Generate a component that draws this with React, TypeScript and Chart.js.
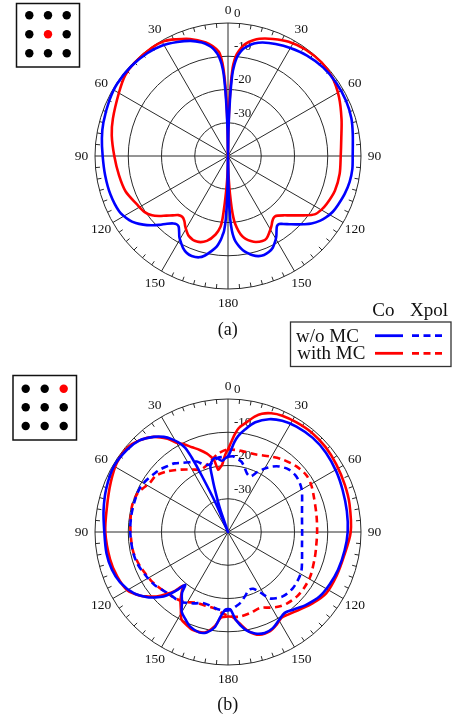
import React, { useEffect, useRef } from "react";
import { Chart, registerables } from "chart.js";

Chart.register(...registerables);

// ---------- data ----------
const ANGLE_COUNT = 360; // one category per degree, clockwise from top
const ANGLE_STEP = 30;
const ANGLE_LABELS = ["0", "30", "60", "90", "120", "150", "180", "150", "120", "90", "60", "30"];
const RADIAL_TICKS = [0, -10, -20, -30];
const R_MIN = -40;
const R_MAX = 0;

// [angle (deg, clockwise from top), gain (dB)]
const A_CO_WO_MC = [
  [0, -40], [1, -32], [2, -23], [3, -15.5], [4, -12.5], [5, -10.5], [6, -9.2], [8, -7.5], [10, -6.5], [13, -5.3],
  [17, -4.3], [23, -3.4], [30, -2.5], [38, -1.6], [47, -0.9], [56, -0.7], [65, -0.8], [73, -1.2], [80, -1.9], [90, -2.5],
  [96, -2.4], [102, -2.6], [108, -3.1], [114, -3.8], [118, -4.3], [122, -5.2], [125, -6.1], [129, -7.7], [132, -9.3],
  [135, -10.9], [138, -12.4], [141, -13.7], [143, -14.4], [145, -14.3], [147, -13.2], [149, -11.8], [151, -10.7],
  [154, -9.3], [157, -8.6], [160, -8.3], [163, -8.5], [166, -9.2], [169, -10.4], [171, -11.3], [173, -12.6], [175, -14.2],
  [176, -15.5], [177, -17.5], [178, -21], [179, -29], [180, -40], [181, -29], [182, -21], [183, -17.5], [184, -16],
  [185, -14.6], [187, -12.6], [190, -10.9], [193, -9.3], [196, -8.3], [200, -8.0], [203, -8.3], [206, -9.2], [209, -10.6],
  [211, -11.6], [213, -13.0], [215, -14.1], [217, -14.3], [219, -13.9], [222, -12.6], [225, -10.7], [228, -8.9],
  [231, -7.2], [234, -5.7], [237, -4.6], [243, -3.3], [252, -2.8], [261, -2.6], [270, -2.3], [278, -1.7], [285, -1.2],
  [295, -0.6], [303, -0.2], [313, -0.3], [322, -0.7], [329, -1.3], [336, -2.5], [342, -3.6], [347, -5.0], [350, -6.2],
  [352, -7.3], [354, -9], [355, -10.3], [356, -12.2], [357, -15.5], [358, -23], [359, -32],
];

const A_CO_WITH_MC = [
  [0, -40], [1, -30], [2, -20], [3, -13.5], [4, -10.8], [5, -9.2], [7, -7.2], [9, -5.8], [12, -4.5], [15, -3.5],
  [21, -2.3], [28, -1.1], [36, -0.4], [45, -0.2], [53, -0.7], [62, -2.2], [72, -4.1], [81, -5.5], [90, -6.1], [99, -6.0],
  [108, -6.2], [116, -7.0], [120, -7.6], [124, -8.6], [128, -11], [131, -12.8], [134, -14.3], [137, -15.6], [140, -16.6],
  [142, -17.0], [144, -16.8], [146, -16.2], [148, -15.3], [151, -14.1], [155, -12.6], [158, -12.4], [162, -12.8],
  [165, -13.5], [168, -14.5], [170, -15.5], [172, -17.2], [174, -19.5], [175, -21.4], [176, -24.5], [177, -28.5],
  [178, -32.5], [179, -36.5], [180, -40], [181, -37], [182, -33], [183, -29.5], [184, -25.5], [185, -21], [186, -18.7],
  [189, -16.1], [194, -13.7], [200, -12.6], [206, -13.2], [211, -15.1], [214, -16.5], [217, -17.1], [220, -16.8],
  [223, -15.6], [226, -14.2], [229, -12.5], [232, -11.0], [236, -9.8], [242, -9.0], [251, -7.4], [260, -6.7], [270, -5.8],
  [280, -4.5], [288, -3.6], [300, -2.1], [308, -0.7], [315, -0.3], [325, -0.2], [331, -0.5], [336, -1.6], [342, -3.0],
  [349, -5.2], [352, -6.6], [355, -8.5], [356, -10.3], [357, -13.6], [358, -20], [359, -30],
];

const B_CO_WO_MC = [
  [0, -17.3], [2, -15.5], [4, -13], [6, -11], [9, -9], [14, -6], [20, -3.9], [26, -2.8], [33, -2.2], [42, -1.9],
  [51, -2.1], [61, -2.7], [70, -3.3], [80, -3.7], [90, -4.0], [99, -4.5], [109, -5.0], [117, -5.6], [125, -6.3],
  [133, -7.9], [140, -9.5], [145, -10.3], [150, -9.4], [155, -8.1], [160, -7.7], [165, -8.4], [170, -10.2], [175, -13.5],
  [178, -16.6], [180, -16.8], [182, -16.6], [185, -14.5], [188, -11], [192, -9.1], [196, -8.6], [202, -9.4], [206, -10.8],
  [210, -12.2], [213, -14.6], [217, -17], [219, -19.6], [221, -17], [223, -14.6], [225, -12.6], [228, -10.6], [231, -8.8],
  [237, -6.2], [245, -4.2], [252, -3.3], [260, -2.9], [270, -2.8], [280, -2.0], [290, -1.1], [300, -0.4], [309, -0.8],
  [316, -1.7], [322, -3.7], [326, -5.5], [329, -7.5], [331, -9.2], [333, -11.5], [334, -15], [335, -21], [337, -31],
  [339, -40], [341, -33], [343, -26], [344, -22.5], [345, -19.5], [348, -17.8], [351, -17.4], [355, -18.5], [358, -17.8],
];

const B_CO_WITH_MC = [
  [0, -15.2], [2, -13], [4, -10.5], [6, -8.5], [10, -6.3], [13, -4.4], [16, -3.0], [20, -2.0], [25, -1.4], [32, -1.1],
  [40, -0.9], [49, -1.1], [58, -1.6], [68, -2.1], [77, -2.5], [90, -3.1], [102, -4.4], [112, -4.8], [122, -5.2],
  [130, -6.7], [137, -8.2], [144, -9.3], [148, -9.6], [152, -8.6], [157, -7.6], [163, -7.7], [168, -9.4], [173, -12.4],
  [177, -14.4], [180, -14.6], [183, -14.4], [185, -14], [188, -11.4], [193, -9.0], [200, -8.7], [204, -9.4], [208, -10.2],
  [211, -12.5], [215, -15.1], [218, -17.5], [220, -18.9], [222, -16.2], [225, -13.5], [228, -11], [231, -9.2], [234, -7.4],
  [240, -5.0], [248, -4.1], [257, -3.6], [270, -3.1], [282, -2.8], [293, -1.7], [302, -0.6], [310, -0.5], [316, -1.7],
  [322, -3.7], [327, -6.6], [330, -9], [333, -10.3], [337, -12.3], [341, -13.9], [345, -15.6], [347, -16.7], [349, -17.8],
  [351, -21], [353, -20.5], [355, -19.7], [357, -17.7], [359, -15.8],
];

const B_XP_WO_MC = [
  [0, -17.4], [4, -17.2], [8, -17.9], [11, -18.5], [14, -19.8], [18, -21.5], [22, -22], [26, -20], [30, -18], [34, -16.3],
  [38, -15], [44, -13.8], [50, -13.5], [55, -13.8], [60, -14.4], [65, -15.4], [70, -16.3], [80, -17.4], [90, -17.7],
  [100, -17.4], [110, -16.3], [118, -15], [124, -14.5], [131, -14.2], [139, -14.5], [144, -15.4], [148, -16.5],
  [152, -19.5], [156, -21.3], [160, -21.5], [164, -20.4], [170, -18.4], [174, -17.5], [178, -16.6], [182, -16.3],
  [186, -16.5], [190, -16.8], [195, -17.3], [200, -17.3], [205, -16.3], [209, -15.6], [214, -14.6], [220, -14.4],
  [226, -14], [234, -12.8], [241, -12.1], [250, -11.2], [258, -10.8], [270, -10.6], [280, -10.5], [290, -10.4],
  [297, -10.4], [303, -11], [309, -11.8], [313, -12.3], [318, -13.2], [322, -13.8], [327, -15.2], [332, -16.2],
  [336, -16.8], [338, -17.6], [341, -18.6], [345, -19], [349, -18.2], [352, -17.5], [356, -17.4],
];

const B_XP_WITH_MC = [
  [0, -15.2], [5, -15.2], [10, -15.3], [20, -15.2], [29, -14], [37, -12.7], [46, -11.5], [54, -10.9], [60, -11.2],
  [66, -11.9], [79, -12.9], [90, -13.2], [100, -13.1], [106, -12.8], [118, -11.9], [126, -11.6], [133, -11.6],
  [140, -12.1], [145, -12.7], [151, -14], [157, -15.2], [164, -14.8], [172, -14.3], [178, -14.6], [184, -15.5],
  [190, -16.7], [197, -16.8], [204, -16.7], [212, -15.2], [218, -14.6], [225, -14.1], [232, -13.3], [238, -12.6],
  [248, -11.7], [256, -11], [262, -10.8], [273, -10.6], [285, -10.1], [293, -10.4], [297, -11.2], [302, -12.2],
  [308, -12.5], [315, -14.2], [323, -16.5], [330, -18.3], [336, -19.5], [339, -19.4], [344, -18.6], [348, -17.5],
  [353, -16.2], [357, -15.5],
];

// ---------- styling ----------
const BLUE = "#0000ff";
const RED = "#ff0000";
const GRID = "#2a2a2a";
const DASH = [7, 4.5];
const SERIF = '"Liberation Serif", "Times New Roman", serif';

function toSeries(pairs: number[][]) {
  const out: (number | null)[] = new Array(ANGLE_COUNT).fill(null);
  for (const [a, v] of pairs) out[((a % ANGLE_COUNT) + ANGLE_COUNT) % ANGLE_COUNT] = v;
  return out;
}

function ds(pairs: number[][], color: string, dashed: boolean) {
  return {
    data: toSeries(pairs),
    borderColor: color,
    backgroundColor: "transparent",
    borderWidth: 2.6,
    borderDash: dashed ? DASH : [],
    fill: false,
    tension: 0.3,
    spanGaps: true,
    pointRadius: 0,
    pointHoverRadius: 0,
    pointHitRadius: 0,
  };
}

const decorPlugin = {
  id: "polarDecor",
  beforeDatasetsDraw(chart: any) {
    const s: any = chart.scales.r;
    const ctx = chart.ctx;
    const R = s.drawingArea;
    ctx.save();
    // minor ticks every 5 degrees on the outer circle
    ctx.strokeStyle = GRID;
    ctx.lineWidth = 1;
    ctx.beginPath();
    for (let a = 0; a < ANGLE_COUNT; a += 5) {
      if (a % ANGLE_STEP === 0) continue;
      const p1 = s.getPointPosition(a, R);
      const p2 = s.getPointPosition(a, R - 4.5);
      ctx.moveTo(p1.x, p1.y);
      ctx.lineTo(p2.x, p2.y);
    }
    ctx.stroke();
    // angle labels
    ctx.fillStyle = "#111";
    ctx.font = `13.5px ${SERIF}`;
    ctx.textAlign = "center";
    ctx.textBaseline = "middle";
    ANGLE_LABELS.forEach((t, k) => {
      const p = s.getPointPosition(k * ANGLE_STEP, R + 13.5);
      ctx.fillText(t, p.x, p.y + 0.5);
    });
    // radial tick labels
    ctx.textAlign = "left";
    ctx.font = `13px ${SERIF}`;
    RADIAL_TICKS.forEach((v) => {
      const d = s.getDistanceFromCenterForValue(v);
      ctx.fillText(String(v), s.xCenter + 6, s.yCenter - d - 9.5);
    });
    ctx.restore();
  },
};

function PolarCanvas({ top, height, pad, series }: any) {
  const ref = useRef<HTMLCanvasElement | null>(null);
  useEffect(() => {
    const labels = Array.from({ length: ANGLE_COUNT }, (_, i) => String(i));
    const chart = new Chart(ref.current as HTMLCanvasElement, {
      type: "radar",
      data: { labels, datasets: series.map((s: any) => ds(s.pairs, s.color, s.dashed)) },
      options: {
        responsive: false,
        animation: false,
        events: [],
        layout: { padding: pad },
        plugins: { legend: { display: false }, tooltip: { enabled: false }, title: { display: false } },
        scales: {
          r: {
            min: R_MIN,
            max: R_MAX,
            startAngle: 0,
            ticks: { display: false, stepSize: 10 },
            pointLabels: { display: false },
            grid: { circular: true, color: GRID, lineWidth: 1 },
            angleLines: {
              display: true,
              color: GRID,
              lineWidth: (c: any) => (c.index % ANGLE_STEP === 0 ? 1 : 0),
            },
          },
        },
      } as any,
      plugins: [decorPlugin],
    } as any);
    return () => chart.destroy();
  }, []);
  return (
    <canvas
      ref={ref}
      width={455}
      height={height}
      style={{ position: "absolute", left: 0, top, width: 455, height }}
    />
  );
}

const TOP_SERIES = [
  { pairs: A_CO_WO_MC, color: BLUE, dashed: false },
  { pairs: A_CO_WITH_MC, color: RED, dashed: false },
];
const BOTTOM_SERIES = [
  { pairs: B_CO_WO_MC, color: BLUE, dashed: false },
  { pairs: B_CO_WITH_MC, color: RED, dashed: false },
  { pairs: B_XP_WO_MC, color: BLUE, dashed: true },
  { pairs: B_XP_WITH_MC, color: RED, dashed: true },
];

function Inset({ x, y, w, h, xs, ys, red }: any) {
  const dots: any[] = [];
  ys.forEach((cy: number, r: number) =>
    xs.forEach((cx: number, c: number) => {
      const isRed = red[0] === r && red[1] === c;
      dots.push(<circle key={`${r}-${c}`} cx={cx} cy={cy} r={4.2} fill={isRed ? "#ff0000" : "#000"} />);
    })
  );
  return (
    <g>
      <rect x={x} y={y} width={w} height={h} fill="none" stroke="#111" strokeWidth={1.5} />
      {dots}
    </g>
  );
}

export default function App() {
  return (
    <div style={{ position: "absolute", left: 0, top: 0, width: 455, height: 719, background: "#fff", overflow: "hidden" }}>
      <PolarCanvas top={0} height={345} pad={{ left: 95, right: 94, top: 23, bottom: 56 }} series={TOP_SERIES} />
      <PolarCanvas top={345} height={374} pad={{ left: 95, right: 94, top: 54, bottom: 54 }} series={BOTTOM_SERIES} />
      <svg
        width={455}
        height={719}
        style={{ position: "absolute", left: 0, top: 0, pointerEvents: "none" }}
        fontFamily={SERIF}
      >
        <Inset x={16.5} y={3.5} w={63} h={63.5} xs={[29.3, 48, 66.7]} ys={[15.3, 34.3, 53.3]} red={[1, 1]} />
        <Inset x={13} y={375.5} w={63.5} h={64.5} xs={[25.7, 44.7, 63.7]} ys={[388.7, 407.3, 426]} red={[0, 2]} />

        <text x={227.7} y={335} textAnchor="middle" fontSize={18} fill="#111">(a)</text>
        <text x={227.7} y={710} textAnchor="middle" fontSize={18} fill="#111">(b)</text>

        {/* legend */}
        <text x={372.3} y={316} fontSize={19} fill="#111">Co</text>
        <text x={410} y={316} fontSize={19} fill="#111">Xpol</text>
        <rect x={290.5} y={322} width={160.5} height={44.5} fill="#fff" stroke="#333" strokeWidth={1.3} />
        <text x={296} y={341.5} fontSize={19} fill="#111">w/o MC</text>
        <text x={297.3} y={358.5} fontSize={19} fill="#111">with MC</text>
        <line x1={375} y1={335.7} x2={403} y2={335.7} stroke={BLUE} strokeWidth={2.8} />
        <line x1={412} y1={335.7} x2={442} y2={335.7} stroke={BLUE} strokeWidth={2.8} strokeDasharray="7 4.5" />
        <line x1={375} y1={353.3} x2={403} y2={353.3} stroke={RED} strokeWidth={2.8} />
        <line x1={412} y1={353.3} x2={442} y2={353.3} stroke={RED} strokeWidth={2.8} strokeDasharray="7 4.5" />
      </svg>
    </div>
  );
}
